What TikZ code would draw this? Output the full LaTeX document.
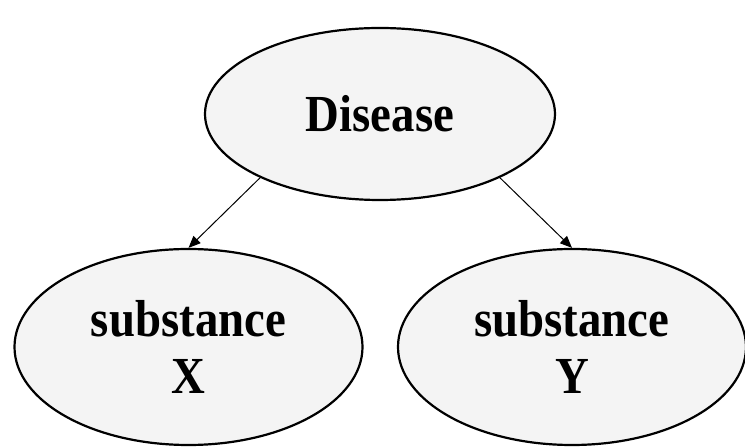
\documentclass[tikz,border=0pt]{standalone}
\usepackage{fontspec}
\setmainfont{Liberation Serif}
\newfontfamily\blobfont[FakeStretch=0.9]{Liberation Serif}
\usetikzlibrary{positioning,arrows.meta,shapes.geometric}
\definecolor{blobgray}{RGB}{244,244,244}

\begin{document}
\begin{tikzpicture}[%
    x=1pt, y=1pt,
    >={Triangle[length=12pt,width=10pt]},  % filled arrow heads
    node distance=233pt and 192pt,
    ]

\tikzset{
    base/.style={draw, ellipse, on grid, align=center, line width=2.2pt, fill=blobgray},
    blob/.style={base, font={\blobfont\fontsize{52}{57}\selectfont\bfseries}, inner sep=0pt},
    bigblob/.style={blob, minimum width=350pt, minimum height=172pt},
    subblob/.style={blob, minimum width=348pt, minimum height=196pt},
    link/.style={->, line width=1pt},
}

\useasboundingbox (0,0) rectangle (745,447);

%% Cause
\node [bigblob] (disease) at (380,333) {Disease};

%% Effects
\node [subblob, below left=of disease, xshift=0.5pt] (subX) {substance\\X};
\node [subblob, below right=of disease] (subY) {substance\\Y};

    \draw[link] (disease.208) -- (subX.north);
    \draw[link] (disease.332) -- (subY.north);
\end{tikzpicture}
\end{document}
